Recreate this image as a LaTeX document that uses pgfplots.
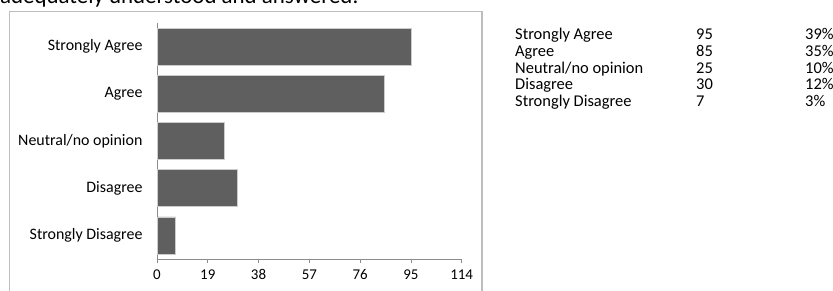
\documentclass[border=0pt]{standalone}
\usepackage{fontspec}
\setmainfont{Carlito}
\usepackage{pgfplots}
\pgfplotsset{compat=1.18}
\definecolor{barfill}{HTML}{5F5F5F}
\definecolor{frame}{HTML}{BEBEBE}
\definecolor{axgray}{HTML}{8C8C8C}
\begin{document}
\begin{tikzpicture}
\path[use as bounding box] (0,0) rectangle (833bp,291bp);
\clip (0,0) rectangle (833bp,291bp);
% title (cut off at the top, as in the reference)
\node[anchor=base west, inner sep=0pt, font=\fontsize{23}{27}\selectfont] at (0bp,287bp) {adequately understood and answered.};
% chart frame
\draw[frame, line width=1.3bp] (9.5bp,-5bp) -- (9.5bp,279.5bp) -- (482bp,279.5bp) -- (482bp,-5bp);
\begin{axis}[
  at={(157bp,32bp)}, anchor=south west,
  scale only axis, width=304.7bp, height=236bp,
  xbar, bar width=37bp,
  xmin=0, xmax=114,
  xtick={0,19,38,57,76,95,114},
  ymin=-0.5, ymax=4.5, y dir=reverse,
  ytick={0,1,2,3,4},
  yticklabels={Strongly Agree,Agree,Neutral/no opinion,Disagree,Strongly Disagree},
  minor ytick={-0.5,0.5,1.5,2.5,3.5,4.5},
  axis lines*=left,
  axis line style={axgray, line width=0.8bp},
  tick align=outside,
  major tick length=4bp, minor tick length=4bp,
  ytick style={draw=none},
  minor tick style={draw=axgray, line width=0.8bp},
  xtick style={draw=axgray, line width=0.8bp},
  x tick label style={font=\fontsize{15}{18}\selectfont, yshift=-3bp},
  y tick label style={font=\fontsize{16}{19}\selectfont, xshift=-7bp},
  /pgf/number format/assume math mode=true,
  clip=false,
]
\addplot[fill=barfill, draw=white!80!black, line width=0.6bp] coordinates {
  (95,0) (85,1) (25,2) (30,3) (7,4)
};
\end{axis}
% data table
\begin{scope}[every node/.style={anchor=base west, inner sep=0pt, font=\fontsize{16.5}{19}\selectfont}]
\node at (515bp,251.5bp) {Strongly Agree};   \node at (696bp,251.5bp) {95}; \node at (805bp,251.5bp) {39\%};
\node at (515bp,234.7bp) {Agree};            \node at (696bp,234.7bp) {85}; \node at (805bp,234.7bp) {35\%};
\node at (515bp,217.9bp) {Neutral/no opinion}; \node at (696bp,217.9bp) {25}; \node at (805bp,217.9bp) {10\%};
\node at (515bp,201.1bp) {Disagree};         \node at (696bp,201.1bp) {30}; \node at (805bp,201.1bp) {12\%};
\node at (515bp,184.3bp) {Strongly Disagree}; \node at (696bp,184.3bp) {7};  \node at (805bp,184.3bp) {3\%};
\end{scope}
\end{tikzpicture}
\end{document}
